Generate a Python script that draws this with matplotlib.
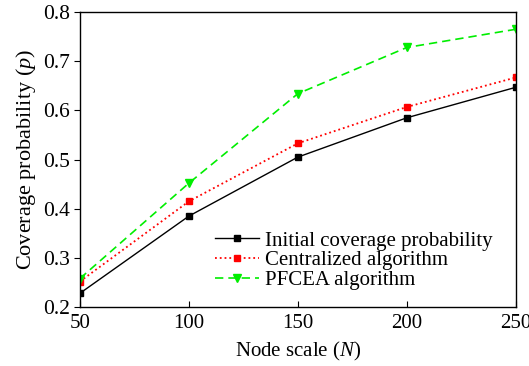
import matplotlib
matplotlib.use("Agg")
import matplotlib.pyplot as plt

node_scale = [50, 100, 150, 200, 250]
initial = [0.228, 0.385, 0.505, 0.585, 0.647]
centralized = [0.252, 0.415, 0.533, 0.607, 0.667]
pfcea = [0.258, 0.452, 0.634, 0.728, 0.765]
labels = ["Initial coverage probability", "Centralized algorithm", "PFCEA algorithm"]

plt.rcParams['font.family'] = ['Liberation Serif', 'DejaVu Serif']
plt.rcParams['mathtext.fontset'] = 'custom'
plt.rcParams['mathtext.rm'] = 'Liberation Serif'
plt.rcParams['mathtext.it'] = 'Liberation Serif:italic'

fig = plt.figure(figsize=(5.29, 3.66), dpi=100)
ax = fig.add_axes([0.151, 0.161, 0.824, 0.806])

ax.plot(node_scale, initial, color='black', linestyle='-', lw=1.0, marker='s', ms=5, label=labels[0])
ax.plot(node_scale, centralized, color='red', linestyle=':', lw=1.3, marker='s', ms=5, label=labels[1])
ax.plot(node_scale, pfcea, color='#00ee00', linestyle=(0, (5, 3)), lw=1.2, marker='v', ms=6, label=labels[2])

ax.set_xlim(50, 250)
ax.set_ylim(0.2, 0.8)
ax.set_xticks(node_scale)
ax.set_yticks([0.2, 0.3, 0.4, 0.5, 0.6, 0.7, 0.8])
ax.set_yticklabels(["0.2", "0.3", "0.4", "0.5", "0.6", "0.7", "0.8"])
ax.tick_params(axis='x', direction='in', labelsize=15, length=4, pad=5)
ax.tick_params(axis='y', direction='out', labelsize=15.5, length=4, pad=3)
for s in ax.spines.values():
    s.set_linewidth(1.0)

ax.set_xlabel(r"Node scale ($\it{N}$)", fontsize=15, labelpad=5)
ax.set_ylabel(r"Coverage probability ($\it{p}$)", fontsize=16, labelpad=4)

ax.legend(loc='lower right', bbox_to_anchor=(0.965, 0.03), frameon=False, fontsize=15,
          handlelength=2.15, handletextpad=0.25, labelspacing=0.0, borderaxespad=0.0)

fig.savefig("out.png", dpi=100)
